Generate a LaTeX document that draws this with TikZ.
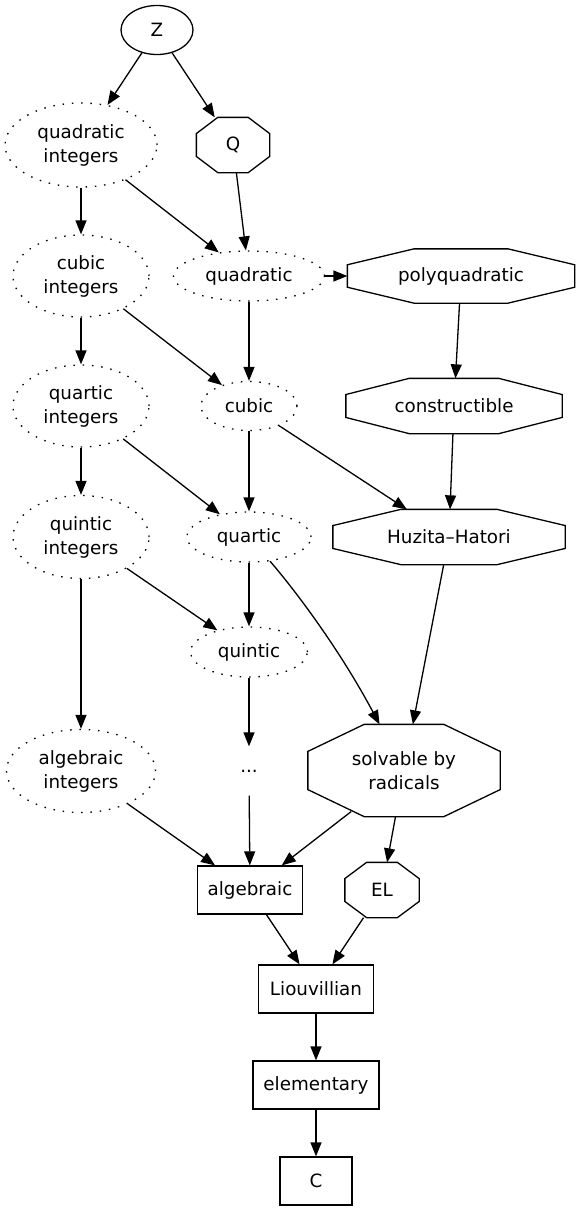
\documentclass[tikz,border=0pt]{standalone}
\usepackage{fontspec}
\setmainfont{DejaVu Sans}
\usetikzlibrary{arrows.meta,shapes.geometric,calc}
\begin{document}
\begin{tikzpicture}[x=1pt,y=-1pt,
  font=\fontsize{18.3pt}{24pt}\selectfont,
  base/.style={inner sep=0pt, align=center, line width=1.3pt},
  ell/.style={base, ellipse, draw},
  dell/.style={base, ellipse, draw, dash pattern=on 1.5pt off 7.8pt},
  boxnode/.style={base, rectangle, draw},
  oct/.style={base, rectangle},
  plainnode/.style={base, rectangle},
  octline/.style={line width=1.3pt, line join=miter},
  edge/.style={-{Triangle[length=14pt,width=11pt]}, line width=1.3pt}
]
\fill[white] (0,0) rectangle (579,1211);
\path[use as bounding box] (0,0) rectangle (579,1211);

\node[ell, minimum width=72pt, minimum height=49pt] (Z) at (157,30) {Z};
\node[dell, minimum width=152pt, minimum height=84pt] (qi) at (81,145) {quadratic\\integers};
\node[oct, minimum width=72pt, minimum height=54pt] (Q) at (233,145) {Q};
\node[dell, minimum width=151pt, minimum height=50pt] (quad) at (249,276) {quadratic};
\node[oct, minimum width=226pt, minimum height=53pt] (polyq) at (461,276) {polyquadratic};
\node[dell, minimum width=136pt, minimum height=82pt] (ci) at (81,276) {cubic\\integers};
\node[dell, minimum width=96pt, minimum height=49pt] (cubic) at (249,406) {cubic};
\node[oct, minimum width=215pt, minimum height=54pt] (constr) at (454,406) {constructible};
\node[dell, minimum width=136pt, minimum height=82pt] (qri) at (81,406) {quartic\\integers};
\node[dell, minimum width=124pt, minimum height=50pt] (quartic) at (249,537) {quartic};
\node[oct, minimum width=231pt, minimum height=54pt] (huz) at (449,537) {Huzita–Hatori};
\node[dell, minimum width=136pt, minimum height=83pt] (qni) at (81,537) {quintic\\integers};
\node[dell, minimum width=117pt, minimum height=50pt] (quintic) at (249,652) {quintic};
\node[dell, minimum width=149pt, minimum height=83pt] (ai) at (81,771) {algebraic\\integers};
\node[plainnode, minimum width=54pt, minimum height=48pt] (dots) at (249,771) {...};
\node[oct, minimum width=191pt, minimum height=91pt] (solv) at (404,770.5) {solvable by\\radicals};
\node[boxnode, minimum width=105pt, minimum height=48pt] (alg) at (250,890) {algebraic};
\node[oct, minimum width=73pt, minimum height=54pt] (EL) at (382,890) {EL};
\node[boxnode, minimum width=115pt, minimum height=48pt] (liou) at (316,989) {Liouvillian};
\node[boxnode, minimum width=126pt, minimum height=48pt] (elem) at (316,1085) {elementary};
\node[boxnode, minimum width=72pt, minimum height=48pt] (C) at (316,1181) {C};

\foreach \n in {Q,polyq,constr,huz,solv,EL}{
  \draw[octline]
    ($(\n.north west)!0.293!(\n.north east)$) --
    ($(\n.north west)!0.707!(\n.north east)$) --
    ($(\n.north east)!0.293!(\n.south east)$) --
    ($(\n.north east)!0.707!(\n.south east)$) --
    ($(\n.south east)!0.293!(\n.south west)$) --
    ($(\n.south east)!0.707!(\n.south west)$) --
    ($(\n.south west)!0.293!(\n.north west)$) --
    ($(\n.south west)!0.707!(\n.north west)$) -- cycle;
}

\draw[edge] (Z) -- (qi);
\draw[edge] (Z) -- (Q);
\draw[edge] (qi) -- (ci);
\draw[edge] (qi) -- (quad);
\draw[edge] (Q) -- (quad);
\draw[edge] (quad) -- (polyq);
\draw[edge] (quad) -- (cubic);
\draw[edge] (polyq) -- (constr);
\draw[edge] (ci) -- (qri);
\draw[edge] (ci) -- (cubic);
\draw[edge] (cubic) -- (quartic);
\draw[edge] (cubic) -- (huz);
\draw[edge] (constr) -- (huz);
\draw[edge] (qri) -- (qni);
\draw[edge] (qri) -- (quartic);
\draw[edge] (quartic) -- (quintic);
\draw[edge] (quartic) .. controls (295,590) and (340,650) .. (solv);
\draw[edge] (huz) -- (solv);
\draw[edge] (qni) -- (ai);
\draw[edge] (qni) -- (quintic);
\draw[edge] (quintic) -- (dots);
\draw[edge] (ai) -- (alg);
\draw[edge] (dots) -- (alg);
\draw[edge, shorten <=-8.3pt] (solv) -- (alg);
\draw[edge] (solv) -- (EL);
\draw[edge] (alg) -- (liou);
\draw[edge] (EL) -- (liou);
\draw[edge] (liou) -- (elem);
\draw[edge] (elem) -- (C);
\end{tikzpicture}
\end{document}
